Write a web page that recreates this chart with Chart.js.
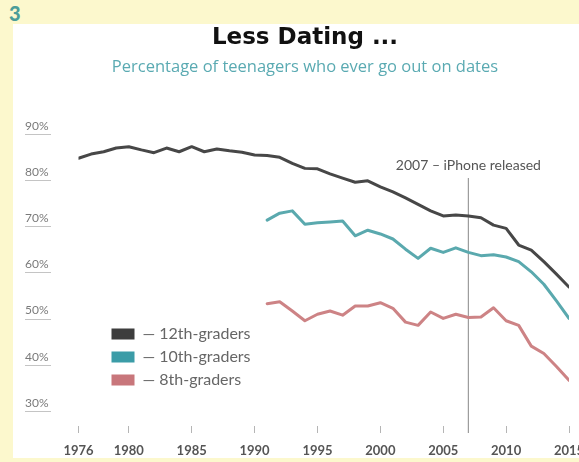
<!DOCTYPE html>
<html>
<head>
<meta charset="utf-8">
<script src="https://cdn.jsdelivr.net/npm/chart.js@4.4.1/dist/chart.umd.min.js"></script>
<style>
  html, body { margin: 0; padding: 0; overflow: hidden; }
  body { width: 579px; height: 462px; background: #fcf8cd; position: relative; }
  #panel { position: absolute; left: 13px; top: 24px; right: 0; bottom: 4px; background: #fff; }
  #num { position: absolute; left: 9px; top: 1px; font: 900 20px Lato, sans-serif; color: #4b9d99; }
  #datingChart { position: absolute; left: 0; top: 0; }
</style>
</head>
<body>
<div id="panel"></div>
<div id="num">3</div>
<canvas id="datingChart" width="600" height="462"></canvas>
<script>
const years = [1976, 1977, 1978, 1979, 1980, 1981, 1982, 1983, 1984, 1985,
               1986, 1987, 1988, 1989, 1990, 1991, 1992, 1993, 1994, 1995,
               1996, 1997, 1998, 1999, 2000, 2001, 2002, 2003, 2004, 2005,
               2006, 2007, 2008, 2009, 2010, 2011, 2012, 2013, 2014, 2015];

// % who ever go out on dates
const grade12 = [83.0, 83.9, 84.4, 85.2, 85.5, 84.8, 84.2, 85.2, 84.4, 85.5,
                 84.4, 85.0, 84.6, 84.3, 83.7, 83.6, 83.2, 81.9, 80.8, 80.7,
                 79.6, 78.7, 77.8, 78.1, 76.8, 75.7, 74.4, 73.0, 71.6, 70.5,
                 70.7, 70.5, 70.1, 68.5, 67.8, 64.2, 63.1, 60.6, 57.9, 55.1];
// 8th and 10th graders were only surveyed from 1991 on
const lowerGradesFrom = 1991;
const grade10 = [69.6, 71.1, 71.6, 68.7, 69.0, 69.2, 69.4, 66.2, 67.4, 66.6,
                 65.5, 63.3, 61.3, 63.5, 62.6, 63.6, 62.6, 61.9, 62.1, 61.6,
                 60.6, 58.4, 55.7, 52.1, 48.3];
const grade8 = [51.5, 51.9, 49.9, 47.8, 49.2, 49.9, 49.0, 51.0, 51.0, 51.7,
                50.5, 47.5, 46.8, 49.7, 48.3, 49.2, 48.5, 48.6, 50.6, 47.8,
                46.8, 42.3, 40.7, 37.9, 34.9];

const yearTicks = [1976, 1980, 1985, 1990, 1995, 2000, 2005, 2010, 2015];
const percentTicks = [30, 40, 50, 60, 70, 80, 90];
const seriesLabels = ["12th-graders", "10th-graders", "8th-graders"];
const iphoneYear = 2007;
const iphoneNote = "2007 – iPhone released";

function toPoints(values, firstYear) {
  const start = years.indexOf(firstYear);
  return values.map((v, i) => ({ x: years[start + i], y: v }));
}

// vertical marker for the iPhone launch
const iphoneMarker = {
  id: "iphoneMarker",
  beforeDatasetsDraw(chart) {
    const { ctx, chartArea, scales } = chart;
    const px = scales.x.getPixelForValue(iphoneYear);
    const textY = chartArea.top + 40;
    ctx.save();
    ctx.strokeStyle = "#9c9c9c";
    ctx.lineWidth = 1.2;
    ctx.beginPath();
    ctx.moveTo(px, textY + 12);
    ctx.lineTo(px, chartArea.bottom + 7);
    ctx.stroke();
    ctx.fillStyle = "#555";
    ctx.font = "14px Lato, sans-serif";
    ctx.textAlign = "center";
    ctx.textBaseline = "middle";
    ctx.fillText(iphoneNote, px, textY);
    ctx.restore();
  },
};

// boxed legend sitting in the lower left of the plot
const boxLegend = {
  id: "boxLegend",
  afterDraw(chart) {
    const { ctx, chartArea } = chart;
    const left = chartArea.left + 33;
    let cy = chartArea.bottom - 92;
    ctx.save();
    ctx.font = "16px Lato, sans-serif";
    ctx.textBaseline = "middle";
    chart.data.datasets.forEach((ds) => {
      ctx.fillStyle = ds.legendColor;
      ctx.fillRect(left, cy - 5.5, 23, 11);
      ctx.fillStyle = "#666";
      ctx.fillText("— " + ds.label, left + 31, cy);
      cy += 23;
    });
    ctx.restore();
  },
};

// the percent labels are underlined
const tickUnderline = {
  id: "tickUnderline",
  afterDraw(chart) {
    const { ctx, scales } = chart;
    const y = scales.y;
    ctx.save();
    ctx.strokeStyle = "#c4c4c4";
    ctx.lineWidth = 1;
    y.ticks.forEach((t) => {
      const py = Math.round(y.getPixelForValue(t.value)) + 8.5;
      ctx.beginPath();
      ctx.moveTo(y.left, py);
      ctx.lineTo(y.left + 26, py);
      ctx.stroke();
    });
    ctx.restore();
  },
};

const ctx = document.getElementById("datingChart").getContext("2d");
const datingChart = new Chart(ctx, {
  type: "line",
  data: {
    datasets: [
      {
        label: seriesLabels[0],
        data: toPoints(grade12, years[0]),
        borderColor: "#474747",
        legendColor: "#3d3d3d",
      },
      {
        label: seriesLabels[1],
        data: toPoints(grade10, lowerGradesFrom),
        borderColor: "#5aa9ae",
        legendColor: "#3b9ca7",
      },
      {
        label: seriesLabels[2],
        data: toPoints(grade8, lowerGradesFrom),
        borderColor: "#cd8385",
        legendColor: "#c8767b",
      },
    ],
  },
  options: {
    responsive: false,
    animation: false,
    elements: {
      line: { borderWidth: 3, tension: 0, borderJoinStyle: "round", borderCapStyle: "round" },
      point: { radius: 0 },
    },
    layout: { padding: { left: 25, right: 15, top: 0, bottom: 5 } },
    scales: {
      x: {
        type: "linear",
        min: 1976,
        max: 2015,
        afterBuildTicks: (scale) => {
          scale.ticks = yearTicks.map((v) => ({ value: v }));
        },
        // padding is counted twice in the default fit, keep the strip tight
        afterFit: (scale) => { scale.height = 31; },
        grid: { drawOnChartArea: false, drawTicks: true, tickLength: 7, color: "#b5b5b5" },
        border: { display: false },
        ticks: {
          padding: 10,
          color: "#555",
          font: { family: "Lato", size: 13, weight: "bold" },
          maxRotation: 0,
          autoSkip: false,
          callback: (v) => String(v),
        },
      },
      y: {
        min: 25,
        max: 90,
        afterBuildTicks: (scale) => {
          scale.ticks = percentTicks.map((v) => ({ value: v }));
        },
        afterFit: (scale) => { scale.width = 53.5; },
        grid: { display: false, drawTicks: false },
        border: { display: false },
        ticks: {
          crossAlign: "far",
          color: "#7a7a7a",
          font: { family: "Lato", size: 12 },
          callback: (v) => v + "%",
        },
      },
      // empty strip on the right so the titles sit where they should
      gutter: {
        type: "linear",
        position: "right",
        afterFit: (scale) => { scale.width = 16; },
        grid: { display: false, drawTicks: false },
        border: { display: false },
        ticks: { display: false },
      },
    },
    plugins: {
      legend: { display: false },
      tooltip: { enabled: false },
      title: {
        display: true,
        text: "Less Dating ...",
        color: "#111",
        font: { family: "DejaVu Sans", size: 23, weight: "bold" },
        padding: { top: 24.5, bottom: 0 },
      },
      subtitle: {
        display: true,
        text: "Percentage of teenagers who ever go out on dates",
        color: "#5aaab2",
        font: { family: "Open Sans", size: 16.5 },
        padding: { top: 5, bottom: 49 },
      },
    },
  },
  plugins: [iphoneMarker, boxLegend, tickUnderline],
});
</script>
</body>
</html>
